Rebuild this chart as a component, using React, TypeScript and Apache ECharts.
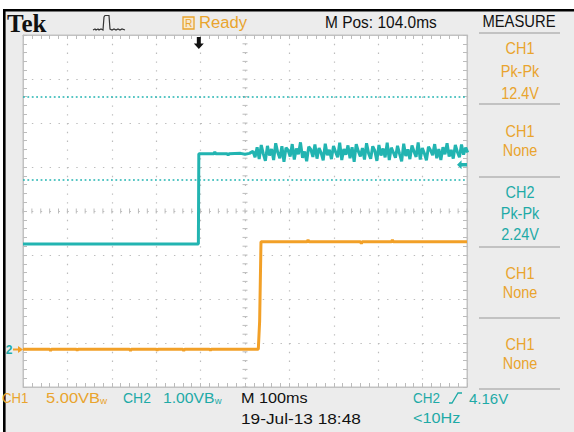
import React, { useEffect, useRef } from "react";
import * as echarts from "echarts";

// ---- data (divisions: x 0..10 at 100 ms/div, y -4..4) ----
const xRange = [0, 10];
const yRange = [-4, 4];

const cyanTime = [0, 3.95, 3.96, 4.3, 4.32, 4.34, 4.6, 4.62, 4.64, 4.9, 5.0, 5.1];
const cyanLevel = [-0.75, -0.75, 1.3, 1.3, 1.34, 1.3, 1.3, 1.27, 1.3, 1.31, 1.29, 1.31];
const cyanTailStart = 5.18;
const cyanTailStep = 0.0465;
const cyanTail = [
  1.36, 1.22, 1.45, 1.18, 1.5, 1.3, 1.14, 1.48, 1.26, 1.41,
  1.16, 1.54, 1.33, 1.2, 1.47, 1.12, 1.44, 1.38, 1.24, 1.52,
  1.17, 1.42, 1.29, 1.56, 1.21, 1.35, 1.13, 1.46, 1.4, 1.23,
  1.51, 1.19, 1.43, 1.32, 1.15, 1.53, 1.27, 1.39, 1.18, 1.48,
  1.34, 1.22, 1.55, 1.16, 1.41, 1.28, 1.49, 1.2, 1.45, 1.12,
  1.52, 1.36, 1.24, 1.43, 1.17, 1.54, 1.31, 1.19, 1.47, 1.37,
  1.14, 1.5, 1.26, 1.42, 1.22, 1.55, 1.16, 1.44, 1.33, 1.21,
  1.48, 1.3, 1.13, 1.53, 1.25, 1.4, 1.18, 1.49, 1.35, 1.23,
  1.56, 1.17, 1.43, 1.31, 1.15, 1.46, 1.38, 1.27, 1.52, 1.2,
  1.41, 1.16, 1.45, 1.29, 1.54, 1.24, 1.39, 1.19, 1.5, 1.34,
  1.22, 1.51, 1.28, 1.44, 1.33,
];

const orangeTime = [0, 0.6, 0.62, 0.64, 1.2, 1.22, 1.24, 2.4, 2.42, 2.44, 3.0, 3.02, 3.04, 3.6, 3.62, 3.64, 4.2, 4.22, 4.24, 5.3, 5.33, 5.36, 6.4, 6.42, 6.44, 7.6, 7.62, 7.64, 8.3, 8.32, 8.34, 10];
const orangeLevel = [-3.14, -3.14, -3.18, -3.14, -3.14, -3.17, -3.14, -3.14, -3.18, -3.14, -3.14, -3.17, -3.14, -3.14, -3.18, -3.14, -3.14, -3.17, -3.14, -3.14, -2.5, -0.7, -0.7, -0.66, -0.7, -0.7, -0.74, -0.7, -0.7, -0.66, -0.7, -0.7];

const cursorLevels = [2.59, 0.7];
const triggerLevel = 1.05;
const triggerTime = 3.96;

const measureSource = ["CH1", "CH1", "CH2", "CH1", "CH1"];
const measureType = ["Pk-Pk", "None", "Pk-Pk", "None", "None"];
const measureValue = ["12.4V", "", "2.24V", "", ""];

// ---- styles ----
const CYAN = "#22b4b1";
const ORANGE = "#f2a027";
const TXT_ORANGE = "#e9a42e";
const TXT_CYAN = "#1eaaa7";
const GRIDC = "#bcbcbc";
const FONT = "Liberation Sans, Arial, sans-serif";

function txt(x: number, y: number, s: string, size: number, color: string, align = "left", scaleX = 0.85, extra: any = {}) {
  return {
    type: "text",
    x,
    y,
    scaleX,
    silent: true,
    style: {
      text: s,
      fontSize: size,
      fontFamily: FONT,
      fill: color,
      align,
      textAlign: align,
      verticalAlign: "middle",
      textVerticalAlign: "middle",
      ...extra,
    },
  };
}

function hline(x1: number, x2: number, y: number, color: string, w: number) {
  return { type: "line", silent: true, shape: { x1, y1: y, x2, y2: y }, style: { stroke: color, lineWidth: w } };
}

export default function App() {
  const ref = useRef<HTMLDivElement>(null);
  useEffect(() => {
    if (!ref.current) return;
    const chart = echarts.init(ref.current, undefined, { renderer: "svg" });

    const cyanData: number[][] = cyanTime.map((t, i) => [t, cyanLevel[i]]);
    cyanTail.forEach((v, i) => cyanData.push([cyanTailStart + i * cyanTailStep, v]));
    const orangeData = orangeTime.map((t, i) => [t, orangeLevel[i]]);

    const axisCommon = {
      type: "value",
      interval: 1,
      axisLine: { show: true, onZero: false, lineStyle: { color: "#c2c2c2", width: 1 } },
      axisTick: { show: true, inside: true, length: 4, lineStyle: { color: GRIDC } },
      minorTick: { show: true, splitNumber: 5, length: 4, lineStyle: { color: GRIDC } },
      axisLabel: { show: false },
    };

    // right measure panel
    const sepY = [33, 104, 177, 247, 318, 389];
    const panelLines: any[] = [];
    sepY.forEach((y) => panelLines.push(hline(479, 560, y, "#b4b4b4", 1.5)));
    const rows = [[48, 71, 93], [131.5, 150.5], [192, 213, 234], [273, 292], [344, 363]];
    measureSource.forEach((src, i) => {
      const col = src === "CH2" ? TXT_CYAN : TXT_ORANGE;
      const ys = rows[i];
      panelLines.push(txt(520, ys[0], src, 17, col, "center"));
      panelLines.push(txt(520, ys[1], measureType[i], 17, col, "center"));
      if (measureValue[i]) panelLines.push(txt(520, ys[2], measureValue[i], 17, col, "center"));
    });

    const option: any = {
      animation: false,
      backgroundColor: "#ececec",
      grid: {
        left: 23,
        top: 35,
        width: 444,
        height: 352,
        show: true,
        backgroundColor: "#ffffff",
        borderColor: "#c2c2c2",
        borderWidth: 1,
      },
      xAxis: [
        {
          ...axisCommon,
          min: xRange[0],
          max: xRange[1],
          position: "bottom",
          splitLine: { show: true, lineStyle: { color: GRIDC, width: 1.2, type: [1.4, 7.4] } },
        },
        { ...axisCommon, min: xRange[0], max: xRange[1], position: "top", splitLine: { show: false } },
      ],
      yAxis: [
        {
          ...axisCommon,
          min: yRange[0],
          max: yRange[1],
          position: "left",
          splitLine: { show: true, lineStyle: { color: GRIDC, width: 1.2, type: [1.4, 7.48] } },
        },
        { ...axisCommon, min: yRange[0], max: yRange[1], position: "right", splitLine: { show: false } },
      ],
      series: [
        {
          type: "custom",
          silent: true,
          xAxisIndex: 0,
          yAxisIndex: 0,
          data: [[5, 0]],
          z: 1,
          renderItem: (_p: any, api: any) => {
            const children: any[] = [];
            for (let i = 0; i <= 50; i++) {
              const p = api.coord([i * 0.2, 0]);
              children.push({ type: "line", shape: { x1: p[0], y1: p[1] - 2.5, x2: p[0], y2: p[1] + 2.5 }, style: { stroke: GRIDC, lineWidth: 1 } });
            }
            for (let j = 0; j <= 40; j++) {
              const p = api.coord([5, -4 + j * 0.2]);
              children.push({ type: "line", shape: { x1: p[0] - 2.5, y1: p[1], x2: p[0] + 2.5, y2: p[1] }, style: { stroke: GRIDC, lineWidth: 1 } });
            }
            return { type: "group", children };
          },
        },
        {
          type: "line",
          data: orangeData,
          showSymbol: false,
          symbol: "none",
          lineStyle: { color: ORANGE, width: 3 },
          z: 3,
          silent: true,
        },
        {
          type: "line",
          data: cyanData,
          showSymbol: false,
          symbol: "none",
          sampling: undefined,
          lineStyle: { color: CYAN, width: 3 },
          z: 4,
          silent: true,
          markLine: {
            silent: true,
            symbol: ["none", "none"],
            label: { show: false },
            lineStyle: { color: CYAN, width: 1.6, type: [1.8, 2.6] },
            data: cursorLevels.map((v) => ({ yAxis: v })),
          },
          markPoint: {
            silent: true,
            label: { show: false },
            data: [
              {
                coord: [xRange[1], triggerLevel],
                symbol: "path://M0,5 L5,0 L5,3 L11,3 L11,7 L5,7 L5,10 Z",
                symbolSize: [10, 9],
                symbolOffset: [-5, 0],
                itemStyle: { color: CYAN },
              },
              {
                coord: [triggerTime, yRange[1]],
                symbol: "path://M3,0 L7,0 L7,6 L10,6 L5,11 L0,6 L3,6 Z",
                symbolSize: [10, 12],
                symbolOffset: [0, 8],
                itemStyle: { color: "#111" },
              },
            ],
          },
        },
      ],
      graphic: [
        { type: "rect", silent: true, shape: { x: 0, y: 0, width: 574, height: 9 }, style: { fill: "#ffffff" } },
        { type: "rect", silent: true, shape: { x: 0, y: 0, width: 3, height: 432 }, style: { fill: "#ffffff" } },
        { type: "rect", silent: true, shape: { x: 3, y: 9, width: 571, height: 2.6 }, style: { fill: "#000000" } },
        { type: "rect", silent: true, shape: { x: 3, y: 9, width: 2.6, height: 423 }, style: { fill: "#000000" } },
        txt(7, 23, "Tek", 25, "#111", "left", 1, { fontFamily: "Liberation Serif, DejaVu Serif, serif", fontWeight: "bold" }),
        {
          type: "polyline",
          silent: true,
          shape: {
            points: [
              [93, 30], [95, 29], [96, 30], [98, 29], [99, 30], [101, 29], [103, 30], [104, 17], [105, 15.5], [109, 15.5],
              [110, 29], [112, 30], [114, 29], [116, 30], [118, 29], [120, 30], [122, 29], [125, 30],
            ],
          },
          style: { stroke: "#333", lineWidth: 1.2, fill: null },
        },
        { type: "rect", silent: true, shape: { x: 183, y: 17, width: 11, height: 12 }, style: { fill: "#f7e9cf", stroke: TXT_ORANGE, lineWidth: 1.3 } },
        txt(188.5, 23, "R", 10, TXT_ORANGE, "center", 1),
        txt(199, 22, "Ready", 17, TXT_ORANGE, "left", 0.98),
        txt(325, 22, "M Pos: 104.0ms", 17, "#111", "left", 0.91),
        txt(519, 21, "MEASURE", 17, "#111", "center", 0.87),
        ...panelLines,
        // ground marker
        txt(9, 350, "2", 12, TXT_CYAN, "center", 1, { fontWeight: "bold" }),
        hline(13, 20, 349.5, ORANGE, 2),
        { type: "polygon", silent: true, shape: { points: [[18, 346], [23, 349.5], [18, 353]] }, style: { fill: ORANGE } },
        // bottom status
        txt(2, 398, "CH1", 15, TXT_ORANGE, "left", 0.88),
        txt(46, 398, "5.00VB{s|w}", 15, TXT_ORANGE, "left", 1.1, { rich: { s: { fontSize: 9, fontFamily: FONT, fill: TXT_ORANGE, verticalAlign: "bottom" } } }),
        txt(123, 398, "CH2", 15, TXT_CYAN, "left", 0.93),
        txt(163, 398, "1.00VB{s|w}", 15, TXT_CYAN, "left", 1.05, { rich: { s: { fontSize: 9, fontFamily: FONT, fill: TXT_CYAN, verticalAlign: "bottom" } } }),
        txt(241, 398, "M 100ms", 15, "#111", "left", 1.08),
        txt(241, 418, "19-Jul-13 18:48", 15, "#111", "left", 1.15),
        txt(413, 398, "CH2", 15, TXT_CYAN, "left", 0.9),
        {
          type: "polyline",
          silent: true,
          shape: { points: [[449, 403], [452, 403], [458, 393], [462, 393]] },
          style: { stroke: TXT_CYAN, lineWidth: 1.3, fill: null },
        },
        txt(469, 398, "4.16V", 15, TXT_CYAN, "left", 1.0),
        txt(413, 418, "<10Hz", 15, TXT_CYAN, "left", 1.08),
      ],
    };
    chart.setOption(option);
    return () => chart.dispose();
  }, []);
  return <div ref={ref} style={{ position: "fixed", left: 0, top: 0, width: 574, height: 432 }} />;
}
